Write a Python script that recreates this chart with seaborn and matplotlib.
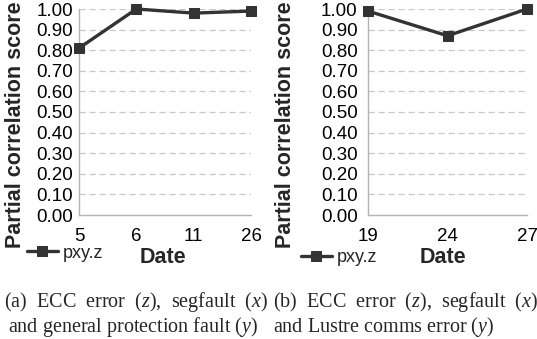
import pandas as pd
import seaborn as sns
import matplotlib
matplotlib.use("Agg")
import matplotlib.pyplot as plt

# data
dates_a = ["5", "6", "11", "26"]
pxyz_a = [0.81, 1.00, 0.98, 0.99]

dates_b = ["19", "24", "27"]
pxyz_b = [0.99, 0.87, 1.00]

yticks = [0.0, 0.1, 0.2, 0.3, 0.4, 0.5, 0.6, 0.7, 0.8, 0.9, 1.0]

caption_a = ["(a)  ECC  error  ($z$),  segfault  ($x$)",
             "and general protection fault ($y$)"]
caption_b = ["(b)  ECC  error  ($z$),  segfault  ($x$)",
             "and Lustre comms error ($y$)"]

sns.set_style("white")
plt.rcParams['font.family'] = ['Liberation Sans', 'DejaVu Sans']
plt.rcParams['mathtext.fontset'] = 'custom'
plt.rcParams['mathtext.rm'] = 'Liberation Serif'
plt.rcParams['mathtext.it'] = 'Liberation Serif:italic'

LINE = "#333333"
GRID = "#c8c8c8"
AXIS = "#b3b3b3"

W, H = 537, 339
fig = plt.figure(figsize=(W / 100, H / 100), dpi=100)


def px_axes(x0, x1, y0, y1):
    # pixel box -> figure fraction
    return fig.add_axes([x0 / W, 1 - y1 / H, (x1 - x0) / W, (y1 - y0) / H])


def draw_panel(ax, dates, vals, ypad, ylab_x, xlab_x):
    df = pd.DataFrame({"Date": dates, "score": vals})
    sns.lineplot(data=df, x="Date", y="score", sort=False, ax=ax, color=LINE,
                 linewidth=2.4, marker="s", markersize=7.5, markeredgecolor=LINE,
                 label="pxy.z", clip_on=False, zorder=5)
    ax.set_xlim(0, len(dates) - 1)
    ax.set_ylim(0, 1)
    ax.set_yticks(yticks)
    ax.set_yticklabels([f"{t:.2f}" for t in yticks])
    for t in yticks[1:]:
        ax.axhline(t, color=GRID, lw=0.9, ls=(0, (5, 3)), zorder=1)
    for side in ["top", "right"]:
        ax.spines[side].set_visible(False)
    for side in ["left", "bottom"]:
        ax.spines[side].set_color(AXIS)
        ax.spines[side].set_linewidth(1.0)
    ax.tick_params(axis="x", direction="out", length=5, width=1.0, color=AXIS,
                   pad=4.5, labelsize=13.5, labelcolor="black")
    ax.tick_params(axis="y", length=0, pad=ypad, labelsize=13.5, labelcolor="black")
    ax.set_ylabel("Partial correlation score", fontsize=15.5, fontweight="bold")
    ax.yaxis.set_label_coords(ylab_x, 0.44)
    ax.set_xlabel("Date", fontsize=15.5, fontweight="bold", va="top")
    ax.xaxis.set_label_coords(xlab_x, -0.155)
    ax.get_legend().remove()


ax_a = px_axes(79, 251, 9, 215)
draw_panel(ax_a, dates_a, pxyz_a, 4.5, -0.31, 0.49)
ax_b = px_axes(368, 527, 9, 215)
draw_panel(ax_b, dates_b, pxyz_b, 7.5, -0.45, 0.47)

h, l = ax_a.get_legend_handles_labels()
fig.legend(h, l, loc="center left", bbox_to_anchor=(27 / W, 1 - 253 / H),
           frameon=False, fontsize=13, handlelength=1.7, handletextpad=0.3,
           borderpad=0, borderaxespad=0)
h, l = ax_b.get_legend_handles_labels()
fig.legend(h, l, loc="center left", bbox_to_anchor=(301 / W, 1 - 258 / H),
           frameon=False, fontsize=13, handlelength=1.7, handletextpad=0.3,
           borderpad=0, borderaxespad=0)

cap = dict(family="Liberation Serif", fontsize=14.5, va="center")
fig.text(268 / W, 1 - 302 / H, caption_a[0], ha="right", **cap)
fig.text(258 / W, 1 - 327 / H, caption_a[1], ha="right", **cap)
fig.text(273 / W, 1 - 302 / H, caption_b[0], ha="left", **cap)
fig.text(273 / W, 1 - 327 / H, caption_b[1], ha="left", **cap)

fig.savefig("out.png", dpi=100)
